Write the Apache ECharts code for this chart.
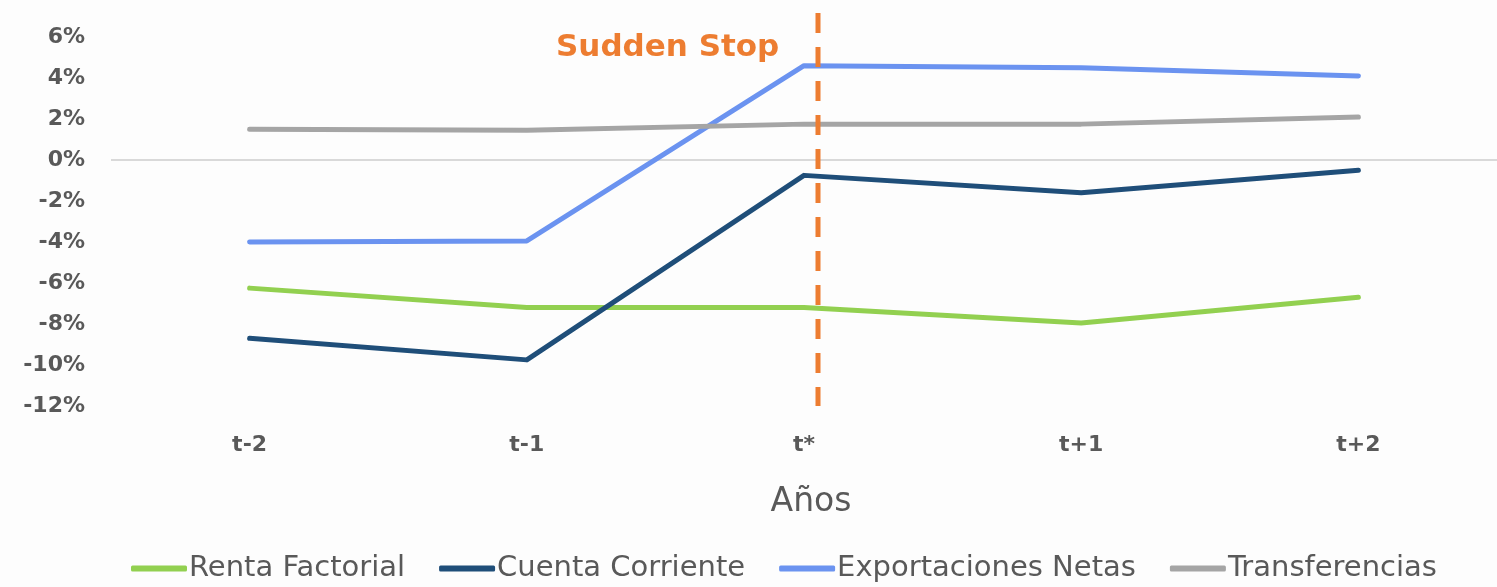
<!DOCTYPE html>
<html>
<head>
<meta charset="utf-8">
<script src="https://cdn.jsdelivr.net/npm/echarts@6/dist/echarts.min.js"></script>
<style>
  html, body { margin: 0; padding: 0; background: #fdfdfd; }
  #chart { width: 1497px; height: 587px; }
</style>
</head>
<body>
<div id="chart"></div>
<script>
  // categorias del eje x
  var periodos = ['t-2', 't-1', 't*', 't+1', 't+2'];
  // series (%)
  var rentaFactorial = [-6.25, -7.2, -7.2, -7.95, -6.7];
  var cuentaCorriente = [-8.7, -9.75, -0.75, -1.6, -0.5];
  var exportacionesNetas = [-4.0, -3.95, 4.6, 4.5, 4.1];
  var transferencias = [1.5, 1.45, 1.75, 1.75, 2.1];

  var fuente = 'DejaVu Sans';
  var gris = '#595959';

  var chart = echarts.init(document.getElementById('chart'));

  function serie(nombre, datos, color, extra) {
    var s = {
      name: nombre,
      type: 'line',
      data: datos,
      symbol: 'none',
      lineStyle: { width: 5, color: color, cap: 'round', join: 'round' },
      itemStyle: { color: color },
      z: 3
    };
    if (extra) Object.assign(s, extra);
    return s;
  }

  var option = {
    backgroundColor: '#fdfdfd',
    animation: false,
    grid: { left: 111, right: 0, top: 37, bottom: 181 },
    legend: {
      left: 126,
      bottom: -1,
      itemWidth: 56,
      itemHeight: 6,
      itemGap: 34,
      icon: 'roundRect',
      textStyle: { fontFamily: fuente, fontSize: 29, color: gris, padding: [0, 0, 0, -3] },
      data: ['Renta Factorial', 'Cuenta Corriente', 'Exportaciones Netas', 'Transferencias']
    },
    xAxis: {
      type: 'category',
      data: periodos,
      name: 'Años',
      nameLocation: 'middle',
      nameGap: 80,
      nameTextStyle: { fontFamily: fuente, fontSize: 33, color: gris, padding: [0, 0, 0, 14] },
      axisLine: { show: false, onZero: false },
      axisTick: { show: false },
      axisLabel: { margin: 28, fontFamily: fuente, fontSize: 22, fontWeight: 'bold', color: gris }
    },
    yAxis: {
      type: 'value',
      min: -12,
      max: 6,
      interval: 2,
      splitLine: { show: false },
      axisLine: { show: false },
      axisTick: { show: false },
      axisLabel: { margin: 26, fontFamily: fuente, fontSize: 22, fontWeight: 'bold', color: gris, formatter: '{value}%' }
    },
    series: [
      serie('Renta Factorial', rentaFactorial, '#92d050', {
        markLine: {
          silent: true,
          symbol: 'none',
          label: { show: false },
          lineStyle: { color: '#d9d9d9', width: 2, type: 'solid' },
          data: [{ yAxis: 0 }],
          z: 1
        }
      }),
      serie('Cuenta Corriente', cuentaCorriente, '#1f4e79'),
      serie('Exportaciones Netas', exportacionesNetas, '#6b93f0'),
      serie('Transferencias', transferencias, '#a5a5a5')
    ],
    graphic: [
      {
        type: 'line',
        shape: { x1: 818, y1: 13, x2: 818, y2: 406 },
        style: { stroke: '#ed7d31', lineWidth: 5, lineDash: [20, 14] },
        z: 10
      },
      {
        type: 'text',
        left: 556,
        top: 32,
        style: { text: 'Sudden Stop', fill: '#ed7d31', font: 'bold 31px "DejaVu Sans"' },
        z: 10
      }
    ]
  };

  chart.setOption(option);
</script>
</body>
</html>
